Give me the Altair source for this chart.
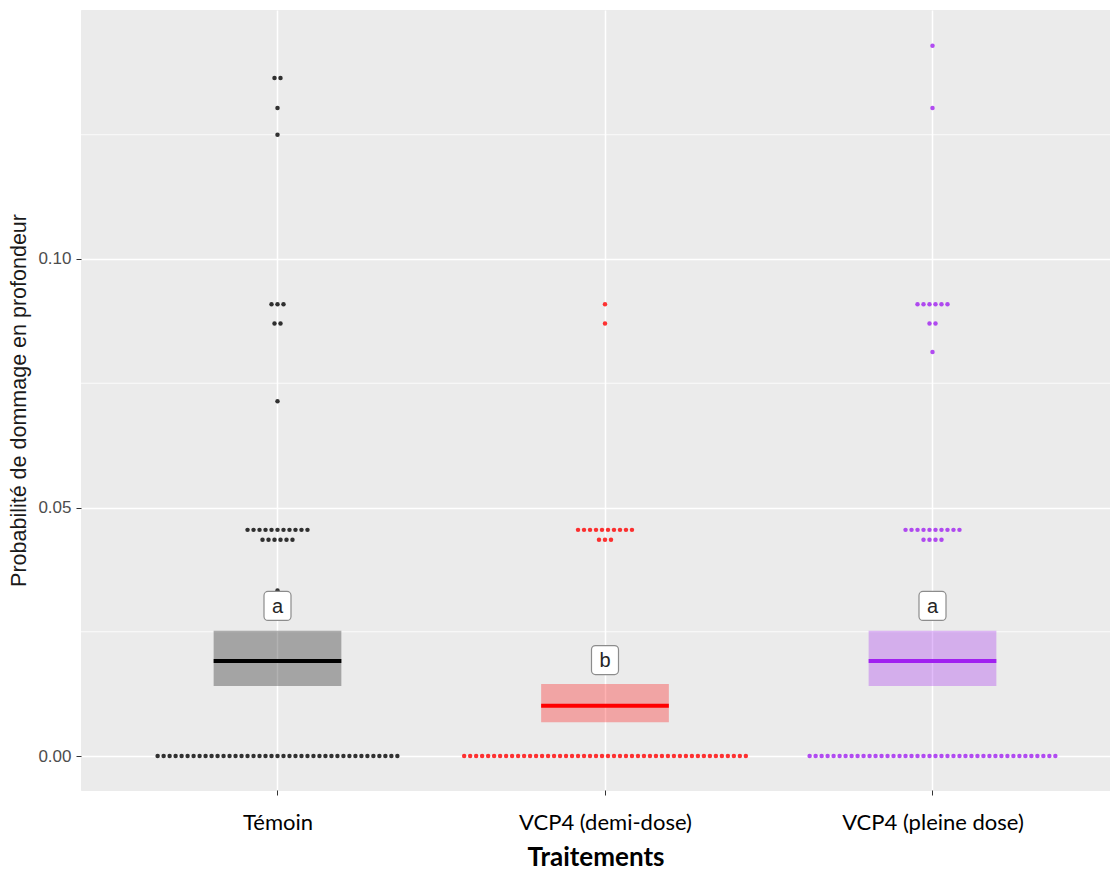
import altair as alt
import pandas as pd

# ---------------- data ----------------
categories = ["Témoin", "VCP4 (demi-dose)", "VCP4 (pleine dose)"]
colors = ["#000000", "#FF0000", "#A020F0"]

# observed values (discrete levels) and how many observations at each level
temoin_values = [0.0, 0.0333, 0.0435, 0.0455, 0.0714, 0.0870, 0.0909, 0.125, 0.1304, 0.1364]
temoin_counts = [41, 1, 6, 11, 1, 2, 3, 1, 1, 2]
demi_values = [0.0, 0.0435, 0.0455, 0.0870, 0.0909]
demi_counts = [48, 3, 10, 1, 1]
pleine_values = [0.0, 0.0435, 0.0455, 0.0813, 0.0870, 0.0909, 0.1304, 0.1429]
pleine_counts = [42, 4, 10, 1, 2, 6, 1, 1]

# summary (mean and interval) per treatment
means = [0.0191, 0.0101, 0.0191]
lower = [0.0141, 0.0068, 0.0141]
upper = [0.0252, 0.0145, 0.0252]
letters = ["a", "b", "a"]
letter_y = [0.0302, 0.0193, 0.0302]

y_major = [0.0, 0.05, 0.10]
y_minor = [0.025, 0.075, 0.125]

# ---------------- layout helpers ----------------
SWARM_STEP = 0.0183   # horizontal step between swarm dots (category units)
HALF_BOX = 0.195      # half width of crossbar (category units)

pts = []
for ci, (vals, cnts) in enumerate([(temoin_values, temoin_counts),
                                   (demi_values, demi_counts),
                                   (pleine_values, pleine_counts)]):
    for v, n in zip(vals, cnts):
        for k in range(n):
            pts.append({"cat": categories[ci],
                        "pos": ci + 1 + (k - (n - 1) / 2) * SWARM_STEP,
                        "val": v})
points_df = pd.DataFrame(pts)

summ_df = pd.DataFrame({
    "cat": categories,
    "pos": [1, 2, 3],
    "x0": [i + 1 - HALF_BOX for i in range(3)],
    "x1": [i + 1 + HALF_BOX for i in range(3)],
    "mean": means, "lo": lower, "hi": upper,
    "letter": letters, "ly": letter_y,
})
minor_df = pd.DataFrame({"v": y_minor})

label_expr = " : ".join(
    [f"datum.value == {i+1} ? '{c}'" for i, c in enumerate(categories[:-1])]
) + f" : '{categories[-1]}'"

xscale = alt.Scale(domain=[0.4, 3.542], nice=False, zero=False)
yscale = alt.Scale(domain=[-0.00684, 0.1501], nice=False, zero=False)
cscale = alt.Scale(domain=categories, range=colors)

x_axis = alt.Axis(values=[1, 2, 3], labelExpr=label_expr, title="Traitements",
                  grid=True, gridColor="white", gridWidth=1.5,
                  tickColor="#333333", tickSize=5, domain=False,
                  labelFont="Lato", labelFontSize=22, labelLimit=0,
                  labelColor="#000000", labelPadding=17,
                  titleFont="Lato", titleFontSize=26,
                  titleFontWeight="bold", titleColor="#000000",
                  titleY=75, titleBaseline="alphabetic")
y_axis = alt.Axis(values=y_major, format=".2f",
                  title="Probabilité de dommage en profondeur",
                  grid=True, gridColor="white", gridWidth=1.5,
                  tickColor="#333333", tickSize=5, domain=False,
                  labelFont="Liberation Sans", labelFontSize=17,
                  labelColor="#4D4D4D", labelPadding=5,
                  titleFont="Liberation Sans", titleFontSize=21.5,
                  titleFontWeight="normal", titleColor="#1A1A1A", titlePadding=7)

minor = alt.Chart(minor_df).mark_rule(color="white", strokeWidth=0.8).encode(
    y=alt.Y("v:Q", scale=yscale, axis=y_axis))

points = alt.Chart(points_df).mark_circle(size=20, opacity=0.8).encode(
    x=alt.X("pos:Q", scale=xscale, axis=x_axis),
    y=alt.Y("val:Q", scale=yscale),
    color=alt.Color("cat:N", scale=cscale, legend=None))

boxes = alt.Chart(summ_df).mark_rect(opacity=0.3).encode(
    x=alt.X("x0:Q", scale=xscale), x2="x1:Q",
    y=alt.Y("lo:Q", scale=yscale), y2="hi:Q",
    color=alt.Color("cat:N", scale=cscale, legend=None))

mean_lines = alt.Chart(summ_df).mark_rule(strokeWidth=4).encode(
    x=alt.X("x0:Q", scale=xscale), x2="x1:Q",
    y=alt.Y("mean:Q", scale=yscale),
    color=alt.Color("cat:N", scale=cscale, legend=None))

rounded = ("M-0.655,-1 H0.655 A0.276,0.276 0 0 1 0.931,-0.724 V0.724 "
           "A0.276,0.276 0 0 1 0.655,1 H-0.655 A0.276,0.276 0 0 1 -0.931,0.724 "
           "V-0.724 A0.276,0.276 0 0 1 -0.655,-1 Z")
label_boxes = alt.Chart(summ_df).mark_point(
    shape=rounded, size=841, filled=True, fill="white", opacity=1,
    stroke="#8C8C8C", strokeWidth=1.2).encode(
    x=alt.X("pos:Q", scale=xscale), y=alt.Y("ly:Q", scale=yscale))

label_text = alt.Chart(summ_df).mark_text(
    font="Liberation Sans", fontSize=20, color="#262626", baseline="middle",
    dy=1).encode(
    x=alt.X("pos:Q", scale=xscale), y=alt.Y("ly:Q", scale=yscale),
    text="letter:N")

chart = alt.layer(minor, points, boxes, mean_lines, label_boxes, label_text).properties(
    width=1029, height=780,
    autosize=alt.AutoSizeParams(type="none"),
    padding={"left": 73, "top": 2, "right": 0, "bottom": 81},
    background="white",
).configure_view(fill="#EBEBEB", stroke="#EBEBEB")

chart.save("out.html", embed_options={"renderer": "svg", "actions": False})
